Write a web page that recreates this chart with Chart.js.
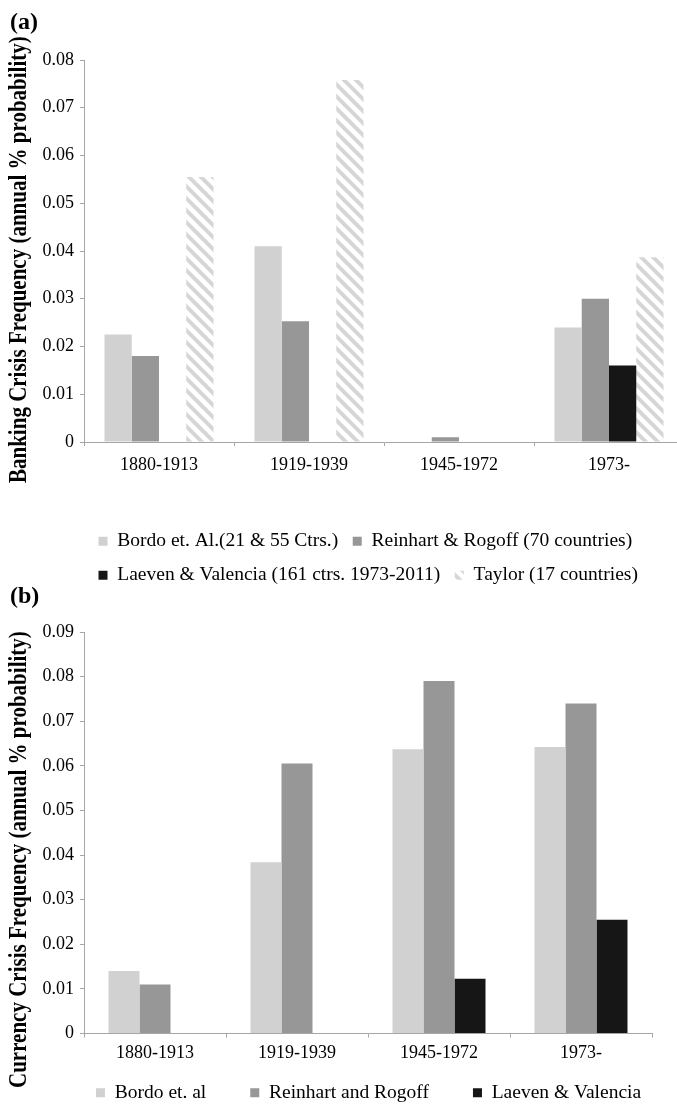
<!DOCTYPE html>
<html>
<head>
<meta charset="utf-8">
<script src="https://cdn.jsdelivr.net/npm/chart.js@4.4.0/dist/chart.umd.min.js"></script>
<style>
  html, body { margin: 0; padding: 0; background: #fff; overflow: hidden; width: 677px; height: 1105px; }
  canvas { display: block; }
  .panel-label { position: absolute; left: 10px; font: bold 24px 'Liberation Serif', serif; line-height: 1; }
  .box { position: absolute; left: 0; }
  .ytitle {
    position: absolute; left: 0; top: 0; white-space: nowrap;
    font: bold 21px 'Liberation Serif', serif; line-height: 21px;
    transform-origin: 0 0;
  }
</style>
</head>
<body>
<div class="box" style="top:0"><canvas id="bankChart" width="700" height="595"></canvas></div>
<div class="box" style="top:590px"><canvas id="currChart" width="677" height="550"></canvas></div>
<div class="panel-label" style="top:9px">(a)</div>
<div class="panel-label" style="top:583px">(b)</div>
<div class="ytitle" style="transform: translate(6px, 483px) rotate(-90deg) scale(1, 1.2)">Banking Crisis Frequency (annual % probability)</div>
<div class="ytitle" style="transform: translate(6px, 1088px) rotate(-90deg) scale(1, 1.2)">Currency Crisis Frequency (annual % probability)</div>

<script>
// periods shared by both panels
const periods = ['1880-1913', '1919-1939', '1945-1972', '1973-'];

// (a) banking crisis frequency
const bankBordo = [0.0225, 0.041, null, 0.024];
const bankReinhart = [0.018, 0.0253, 0.001, 0.030];
const bankLaeven = [null, null, null, 0.016];
const bankTaylor = [0.0555, 0.0758, null, 0.0387];

// (b) currency crisis frequency
const currBordo = [0.014, 0.0384, 0.0637, 0.0642];
const currReinhart = [0.011, 0.0605, 0.079, 0.074];
const currLaeven = [null, null, 0.0123, 0.0255];

const FONT = "'Liberation Serif', 'Times New Roman', serif";
const AXIS_GREY = '#a6a6a6';
const LIGHT = '#d0d1d0';
const MID = '#979797';
const DARK = '#161616';

// diagonal hatch used for the Taylor series
function makeHatch() {
  const c = document.createElement('canvas');
  c.width = 12; c.height = 12;
  const g = c.getContext('2d');
  g.strokeStyle = '#d6d6d6';
  g.lineWidth = 4;
  g.beginPath();
  g.moveTo(-6, -6); g.lineTo(18, 18);
  g.moveTo(-6, 6); g.lineTo(6, 18);
  g.moveTo(6, -6); g.lineTo(18, 6);
  g.stroke();
  return g.createPattern(c, 'repeat');
}

// moves the legend box after layout (only when the chart asks for it)
const legendPlacer = {
  id: 'legendPlacer',
  afterLayout(chart, args, opts) {
    const lg = chart.legend;
    if (!lg || opts.left === undefined) return;
    const h = lg.bottom - lg.top;
    lg.left = opts.left;
    lg.right = opts.right;
    lg.top = opts.top;
    lg.bottom = opts.top + h;
  }
};

function baseOptions(cfg) {
  return {
    responsive: false,
    animation: false,
    layout: { padding: cfg.padding },
    datasets: { bar: { categoryPercentage: cfg.catPct, barPercentage: 1.0 } },
    plugins: {
      legend: {
        position: 'bottom',
        fullSize: cfg.legendFull,
        align: 'start',
        labels: {
          boxWidth: 9, boxHeight: 9, padding: cfg.legendPad,
          color: '#000', font: { family: FONT, size: 19.5 }
        }
      },
      legendPlacer: cfg.place || {},
      tooltip: { enabled: false }
    },
    scales: {
      x: {
        offset: true,
        grid: { offset: true, drawOnChartArea: false, tickLength: 4, color: AXIS_GREY },
        border: { color: AXIS_GREY },
        ticks: { color: '#000', padding: cfg.xPad, maxRotation: 0, font: { family: FONT, size: 18 } },
        afterFit: s => { s.height = cfg.xHeight; }
      },
      y: {
        min: 0,
        max: cfg.yMax,
        ticks: {
          stepSize: 0.01, color: '#000', padding: 6,
          font: { family: FONT, size: 18 },
          callback: v => (Math.abs(v) < 1e-9 ? '0' : v.toFixed(2))
        },
        grid: { drawOnChartArea: false, tickLength: 4, color: AXIS_GREY },
        border: { color: AXIS_GREY },
        afterFit: s => { s.width = 84; }
      }
    }
  };
}

new Chart(document.getElementById('bankChart'), {
  type: 'bar',
  data: {
    labels: periods,
    datasets: [
      { label: 'Bordo et. Al.(21 & 55 Ctrs.)', data: bankBordo, backgroundColor: LIGHT },
      { label: 'Reinhart & Rogoff (70 countries)', data: bankReinhart, backgroundColor: MID },
      { label: 'Laeven & Valencia (161 ctrs. 1973-2011)', data: bankLaeven, backgroundColor: DARK },
      { label: 'Taylor (17 countries)', data: bankTaylor, backgroundColor: makeHatch() }
    ]
  },
  options: baseOptions({
    padding: { top: 60, right: 16, left: 0, bottom: 0 },
    catPct: 0.727, legendPad: 14.5, legendFull: false, xPad: 8, xHeight: 75, yMax: 0.08
  }),
  plugins: [legendPlacer]
});

new Chart(document.getElementById('currChart'), {
  type: 'bar',
  data: {
    labels: periods,
    datasets: [
      { label: 'Bordo et. al', data: currBordo, backgroundColor: LIGHT },
      { label: 'Reinhart and Rogoff', data: currReinhart, backgroundColor: MID },
      { label: 'Laeven & Valencia', data: currLaeven, backgroundColor: DARK }
    ]
  },
  options: baseOptions({
    padding: { top: 42, right: 25, left: 0, bottom: 0 },
    catPct: 0.655, legendPad: 44, legendFull: true, xPad: 5, xHeight: 33, yMax: 0.09,
    place: { left: 52, right: 740, top: 449 }
  }),
  plugins: [legendPlacer]
});
</script>
</body>
</html>
